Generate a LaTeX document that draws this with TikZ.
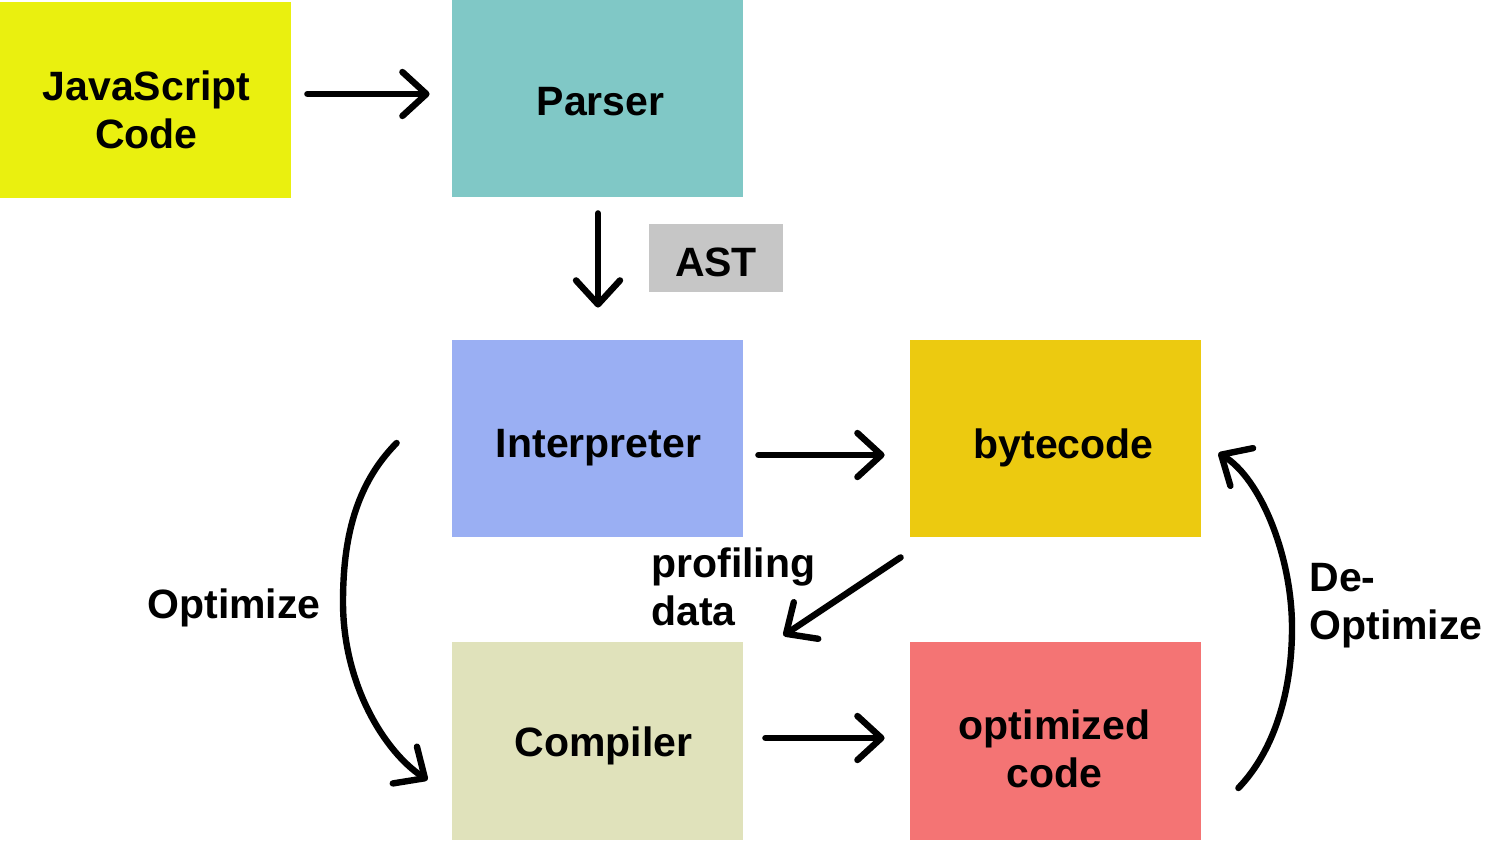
\documentclass[tikz,border=0pt]{standalone}
\usepackage{fontspec}
\setmainfont{Liberation Sans}
\usetikzlibrary{arrows.meta,calc}
\definecolor{cjs}{HTML}{EAF00F}
\definecolor{cparser}{HTML}{80C8C6}
\definecolor{cast}{HTML}{C6C6C6}
\definecolor{cinterp}{HTML}{9AAFF3}
\definecolor{cbyte}{HTML}{ECCA10}
\definecolor{ccomp}{HTML}{E0E2BB}
\definecolor{copt}{HTML}{F47474}
\newcommand{\lbl}{\fontsize{20.5}{24}\selectfont\bfseries}
\tikzset{
  box/.style={rectangle, inner sep=0pt, minimum width=145.5pt, minimum height=98.5pt},
  lab/.style={inner sep=0pt, align=left, font=\lbl},
  intext/.style={inner sep=0pt, align=center, font=\lbl},
  arr/.style={line width=3.2pt, line cap=round, line join=round,
    -{Straight Barb[length=12pt,width=22pt,line cap=round,line join=round]}}
}
\begin{document}
\begin{tikzpicture}[x=0.5pt,y=-0.5pt]
\useasboundingbox (0,0) rectangle (1498,840);
\node[box, fill=cjs, minimum height=98pt,
  label={[intext, xshift=0.5pt, yshift=-5pt]center:JavaScript\\Code}] (js) at (145.5,100) {};
\node[box, fill=cparser,
  label={[intext, xshift=1.5pt, yshift=-1.5pt]center:Parser}] (parser) at (597.5,98.5) {};
\node[box, fill=cast, minimum width=67pt, minimum height=34pt,
  label={[intext, yshift=-2pt]center:AST}] (ast) at (716,258) {};
\node[box, fill=cinterp,
  label={[intext, xshift=0.5pt, yshift=-4.5pt]center:Interpreter}] (interp) at (597.5,438.5) {};
\node[box, fill=cbyte,
  label={[intext, xshift=4pt, yshift=-4.5pt]center:bytecode}] (byte) at (1055.5,438.5) {};
\node[box, fill=ccomp, minimum height=99pt,
  label={[intext, xshift=3pt, yshift=-2.5pt]center:Compiler}] (comp) at (597.5,741) {};
\node[box, fill=copt, minimum height=99pt,
  label={[intext, xshift=-0.5pt, yshift=-4pt]center:optimized\\code}] (opt) at (1055.5,741) {};
\node[lab] (optl) at (234,608) {Optimize};
\node[lab, anchor=west] (prof) at (651,587) {profiling\\data};
\node[lab, anchor=west] (deopt) at (1309,606) {De-\\Optimize};
\draw[arr] ($(js.east)+(16,-6)$) -- ($(parser.west)+(-22,-4.5)$);
\draw[arr] ($(parser.south)+(0.5,16)$) -- ($(interp.north)+(0.5,-32)$);
\draw[arr] ($(interp.east)+(15,16.5)$) -- ($(byte.west)+(-25,16.5)$);
\draw[arr] ($(comp.east)+(22,-3)$) -- ($(opt.west)+(-25,-3)$);
\draw[arr] ($(byte.south west)+(-9,20)$) -- ($(comp.north east)+(40,-6)$);
\draw[arr] ($(interp.west)+(-55,4.5)$) .. controls (355,485) and (343,540) .. (343,602)
  .. controls (343,685) and (385,752) .. ($(comp.west)+(-24,39)$);
\draw[arr] ($(opt.east)+(37,47)$) .. controls (1275,750) and (1292,690) .. (1292,628)
  .. controls (1292,555) and (1260,478) .. ($(byte.east)+(17,14.5)$);
\end{tikzpicture}
\end{document}
